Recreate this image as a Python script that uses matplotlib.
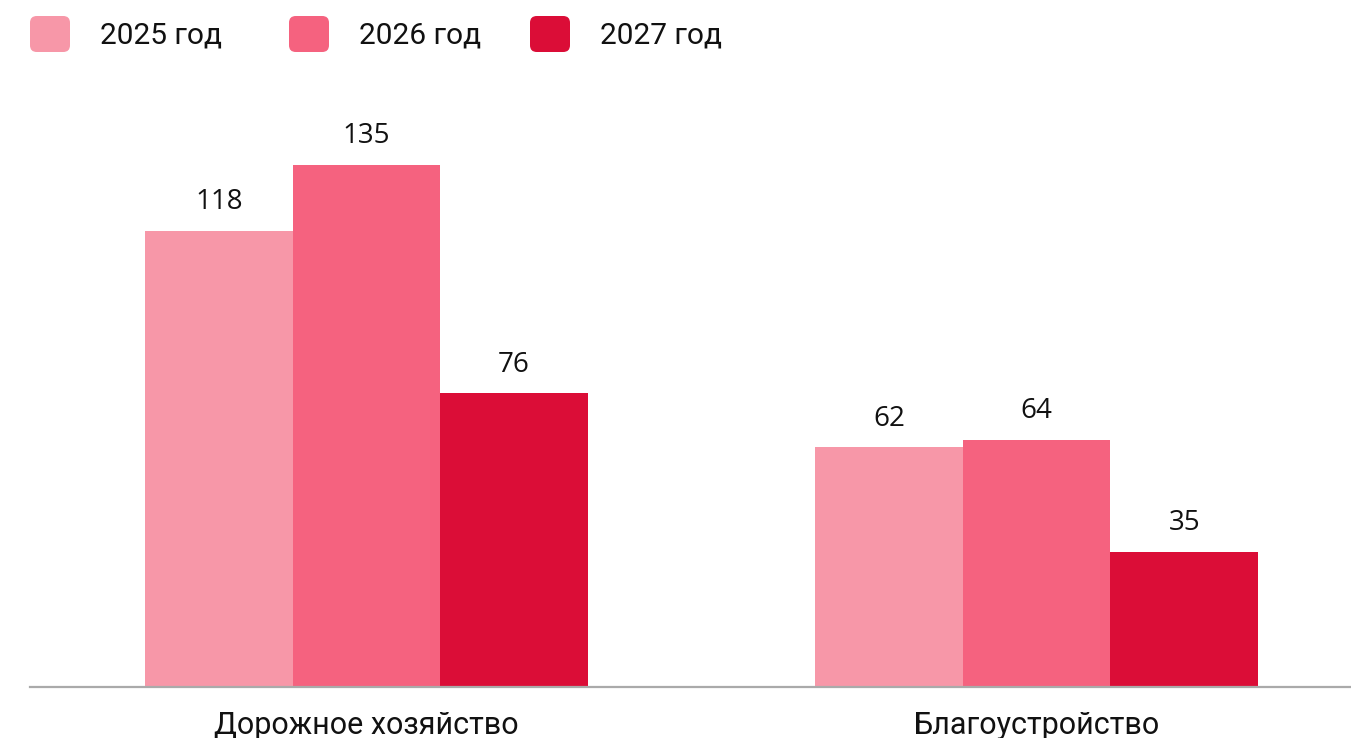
import matplotlib
matplotlib.use("Agg")
import matplotlib.pyplot as plt
from matplotlib.patches import FancyBboxPatch
import numpy as np

categories = ["Дорожное хозяйство", "Благоустройство"]
series_labels = ["2025 год", "2026 год", "2027 год"]
values_2025 = [118, 62]
values_2026 = [135, 64]
values_2027 = [76, 35]
series_values = [values_2025, values_2026, values_2027]
colors = ["#F797A8", "#F5627F", "#DB0D37"]

W, H = 1351, 738
fig = plt.figure(figsize=(W / 100, H / 100), dpi=100)
ax = fig.add_axes([30 / W, (H - 687) / H, 1 - 30 / W, (687 - 100) / H])

x = np.arange(len(categories))
width = 0.2201
offsets = [-width, 0, width]
for vals, off, col in zip(series_values, offsets, colors):
    bars = ax.bar(x + off, vals, width=width, color=col, edgecolor="none", zorder=2)
    for b, v in zip(bars, vals):
        ax.annotate(str(v), (b.get_x() + b.get_width() / 2, v), xytext=(0, 10.5),
                    textcoords="offset points", ha="center", va="bottom",
                    fontsize=20, family="Open Sans", color="#111111")

ax.set_xlim(-0.5022, 1.469)
ax.set_ylim(0, 587 / 3.867)
ax.set_xticks(x)
ax.set_xticklabels(categories, fontsize=22, family="Roboto", color="#111111")
ax.tick_params(axis="x", length=0, pad=17)
ax.set_yticks([])
for s in ["top", "right", "left"]:
    ax.spines[s].set_visible(False)
ax.spines["bottom"].set_color("#AAAAAA")
ax.spines["bottom"].set_linewidth(1.6)

# legend
sq_x = [30, 289, 530]
txt_x = [100, 359, 600]
for sx, tx, col, lab in zip(sq_x, txt_x, colors, series_labels):
    p = FancyBboxPatch((sx / W, (H - 52) / H), 40 / W, 36 / H,
                       boxstyle="round,pad=0,rounding_size=0.005",
                       transform=fig.transFigure, facecolor=col, edgecolor="none",
                       mutation_aspect=W / H)
    fig.patches.append(p)
    fig.text(tx / W, (H - 35) / H, lab, fontsize=21.5, family="Roboto",
             color="#111111", va="center", ha="left")

fig.savefig("out.png", dpi=100)
